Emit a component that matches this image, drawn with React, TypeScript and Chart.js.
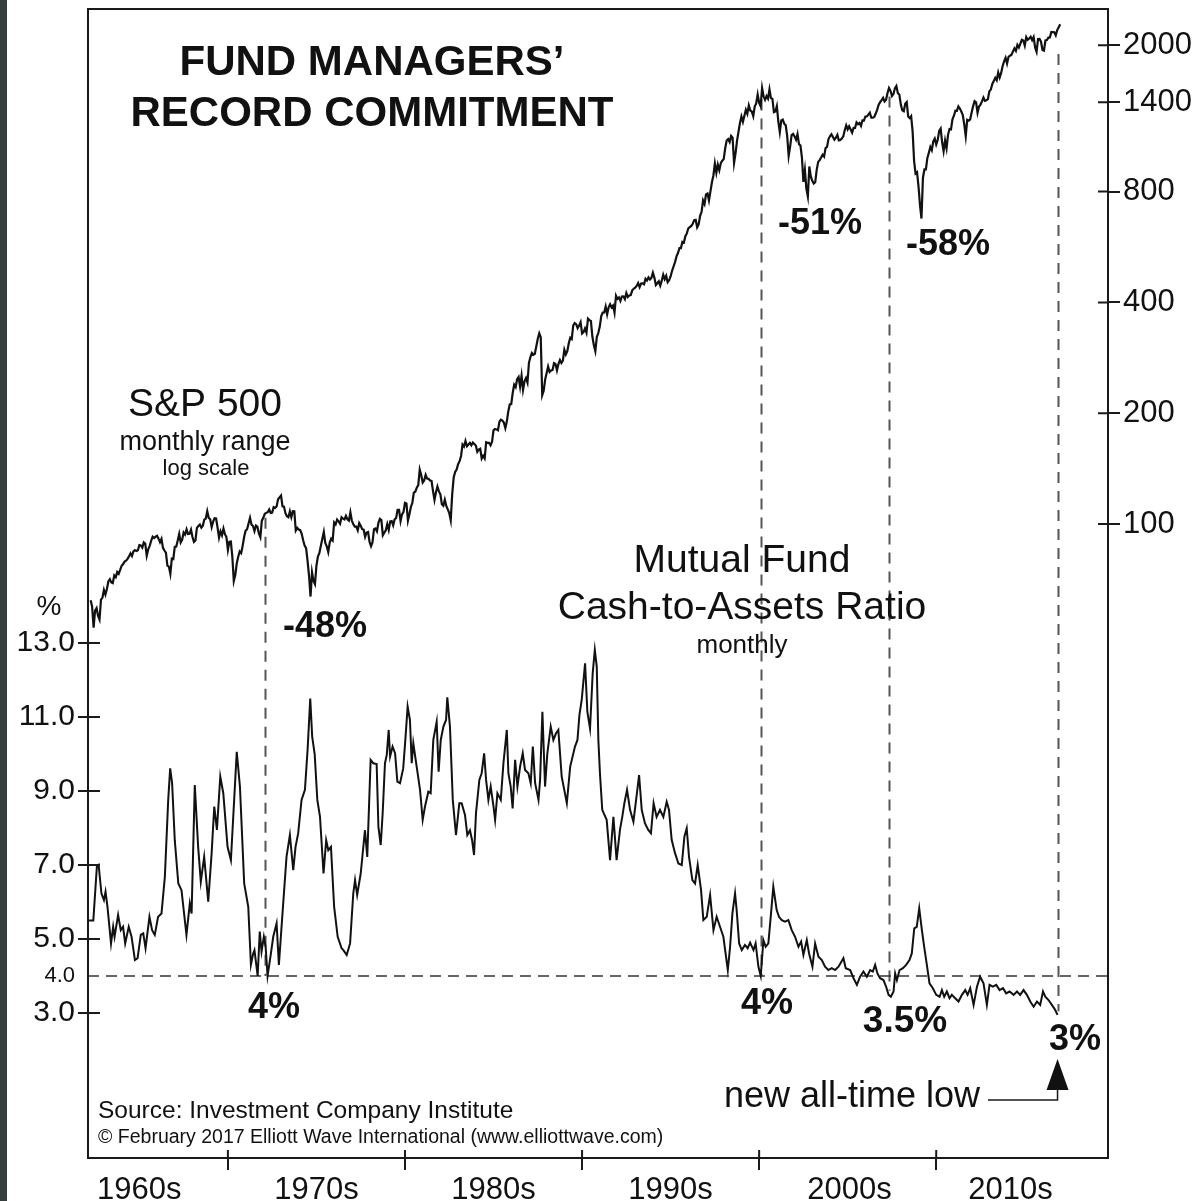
import React, { useEffect, useRef } from "react";
import { Chart, registerables } from "chart.js";

Chart.register(...registerables);

const FONT = '"Liberation Sans", Arial, Helvetica, sans-serif';

// ---------- axes ----------
const X_MIN = 1962.1;
const X_MAX = 2019.7;
const decadeTicks = [1970, 1980, 1990, 2000, 2010];
const decadeLabels = ["1960s", "1970s", "1980s", "1990s", "2000s", "2010s"];
const decadeLabelPos = [1965, 1975, 1985, 1995, 2005.1, 2014.2];
const cashTicks = [3, 4, 5, 7, 9, 11, 13];
const CASH_MIN = -0.919;
const CASH_MAX = 30.135;
const spxTicks = [100, 200, 400, 800, 1400, 2000];
const SPX_MIN = 1.893;
const SPX_MAX = 2508;

// ---------- S&P 500 monthly (starts April 1962) ----------
const SPX_START_YEAR = 1962;
const SPX_START_MONTH = 3; // April, 0-based
const spx1962to1969 = [
  62.0, 59.6, 52.3, 58.2, 59.1, 56.3, 55.0, 62.3, 63.1,
  66.2, 64.3, 66.6, 69.8, 70.8, 69.4, 69.1, 72.5, 71.7, 74.0, 73.2, 75.0,
  77.0, 77.8, 79.0, 79.5, 80.4, 81.7, 83.2, 81.8, 84.2, 84.9, 84.4, 84.8,
  87.6, 87.4, 86.2, 89.1, 88.4, 82.0, 85.3, 87.2, 90.0, 92.4, 91.6, 92.4,
  92.9, 91.2, 89.2, 91.1, 86.1, 84.7, 83.6, 77.1, 76.6, 73.2, 80.5, 80.3,
  86.6, 86.8, 90.2, 94.0, 89.1, 90.6, 94.8, 93.6, 96.7, 93.9, 94.0, 96.5,
  92.2, 89.4, 90.2, 97.6, 98.7, 99.6, 97.7, 98.9, 102.7, 103.4, 108.4, 103.9,
  103.0, 98.1, 101.5, 103.7, 103.5, 97.7, 91.8, 95.5, 93.1, 97.2, 93.8, 92.1,
];
const spx1970s = [
  85.0, 89.5, 89.6, 81.5, 70.0, 72.7, 78.1, 81.5, 84.2, 83.3, 87.2, 92.2,
  95.9, 96.8, 100.3, 104.0, 99.6, 98.7, 95.6, 99.0, 98.3, 94.2, 92.0, 102.1,
  103.9, 106.6, 107.2, 107.7, 109.5, 107.1, 107.4, 111.1, 110.6, 111.6, 116.7, 118.1,
  119.5, 111.7, 111.5, 107.0, 105.0, 104.3, 108.2, 104.3, 108.4, 108.3, 96.0, 97.6,
  96.6, 96.2, 94.0, 90.3, 87.3, 86.0, 79.3, 72.2, 63.5, 73.9, 70.0, 68.6,
  77.0, 81.6, 83.4, 87.3, 91.2, 95.2, 88.8, 86.9, 83.9, 89.0, 91.2, 90.2,
  100.9, 99.7, 102.8, 101.6, 100.2, 104.3, 103.4, 102.9, 105.2, 102.9, 102.1, 107.5,
  102.0, 99.8, 98.4, 98.4, 96.1, 100.5, 98.9, 96.8, 96.5, 92.3, 94.8, 95.1,
  89.3, 87.0, 89.2, 96.8, 97.2, 95.5, 100.7, 103.3, 102.5, 93.2, 94.7, 96.1,
  99.9, 96.3, 101.6, 101.8, 99.1, 102.9, 103.8, 109.3, 109.3, 101.8, 106.2, 107.9,
];
const spx1980s = [
  114.2, 113.7, 102.1, 106.3, 111.2, 114.2, 121.7, 122.4, 125.5, 127.5, 140.5, 135.8,
  129.6, 131.3, 136.0, 132.8, 132.6, 131.2, 130.9, 122.8, 116.2, 121.9, 126.4, 122.6,
  120.4, 113.1, 112.0, 116.4, 111.9, 109.6, 107.1, 102.4, 120.4, 133.7, 138.5, 140.6,
  145.3, 148.1, 153.0, 164.4, 162.4, 168.1, 162.6, 164.4, 166.1, 163.6, 166.4, 164.9,
  163.4, 157.1, 159.2, 160.1, 150.6, 153.2, 150.7, 166.7, 166.1, 166.1, 163.6, 167.2,
  179.6, 181.2, 180.7, 179.8, 189.6, 191.9, 190.9, 188.6, 182.1, 189.8, 202.2, 211.3,
  211.8, 226.9, 238.9, 235.5, 247.4, 250.8, 236.1, 252.9, 231.3, 244.0, 249.2, 242.2,
  274.1, 284.2, 291.7, 288.4, 290.1, 304.0, 318.7, 329.8, 321.8, 224.0, 230.3, 247.1,
  257.1, 267.8, 258.9, 261.3, 262.2, 273.5, 272.0, 261.5, 271.9, 279.0, 273.7, 277.7,
  297.5, 288.9, 294.9, 309.6, 320.5, 318.0, 346.1, 351.5, 349.2, 340.4, 346.0, 353.4,
];
const spx1990s = [
  329.1, 331.9, 339.9, 330.8, 361.2, 358.0, 356.2, 322.6, 306.1, 295.0, 322.2, 330.2,
  343.9, 367.1, 375.2, 375.4, 389.8, 371.2, 387.8, 395.4, 387.9, 392.5, 375.2, 417.1,
  408.8, 412.7, 403.7, 415.0, 415.4, 408.1, 424.2, 414.0, 417.8, 418.7, 431.4, 435.7,
  438.8, 443.4, 451.7, 440.2, 450.2, 450.5, 448.1, 463.6, 458.9, 467.8, 461.8, 466.5,
  481.6, 467.1, 445.8, 450.9, 456.5, 444.3, 458.3, 475.5, 462.7, 472.4, 453.7, 459.3,
  470.4, 487.4, 500.7, 514.7, 533.4, 544.8, 562.1, 561.9, 584.4, 581.5, 605.4, 615.9,
  636.0, 640.4, 645.5, 654.2, 669.1, 670.6, 640.0, 652.0, 687.3, 705.3, 757.0, 740.7,
  786.2, 790.8, 757.1, 801.3, 848.3, 885.1, 954.3, 899.5, 947.3, 914.6, 955.4, 970.4,
  980.3, 1049.3, 1101.8, 1111.8, 1090.8, 1133.8, 1120.7, 957.3, 1017.0, 1098.7, 1163.6, 1229.2,
  1279.6, 1238.3, 1286.4, 1335.2, 1301.8, 1372.7, 1328.7, 1320.4, 1282.7, 1362.9, 1388.9, 1469.3,
];
const spx2000s = [
  1394.5, 1366.4, 1530.0, 1452.4, 1420.6, 1454.6, 1430.8, 1517.7, 1436.5, 1429.4, 1315.0, 1320.3,
  1366.0, 1239.9, 1160.3, 1249.5, 1255.8, 1224.4, 1211.2, 1133.6, 1000.0, 1059.8, 1139.5, 1148.1,
  1130.2, 1106.7, 1147.4, 1076.9, 1067.1, 989.8, 850.0, 916.1, 815.3, 776.0, 936.3, 879.8,
  855.7, 841.2, 848.2, 916.9, 963.6, 974.5, 990.3, 1008.0, 996.0, 1050.7, 1058.2, 1111.9,
  1131.1, 1144.9, 1126.2, 1107.3, 1120.7, 1140.8, 1101.7, 1104.2, 1114.6, 1130.2, 1173.8, 1211.9,
  1181.3, 1203.6, 1180.6, 1156.9, 1191.5, 1191.3, 1234.2, 1220.3, 1228.8, 1207.0, 1249.5, 1248.3,
  1280.1, 1280.7, 1294.9, 1310.6, 1270.1, 1270.2, 1276.7, 1303.8, 1335.9, 1377.9, 1400.6, 1418.3,
  1438.2, 1406.8, 1420.9, 1482.4, 1530.6, 1503.4, 1455.3, 1474.0, 1526.8, 1549.4, 1481.1, 1468.4,
  1378.6, 1330.6, 1322.7, 1385.6, 1400.4, 1280.0, 1267.4, 1282.8, 1166.4, 968.8, 896.2, 903.3,
  825.9, 735.1, 676.0, 872.8, 919.1, 919.3, 987.5, 1020.6, 1057.1, 1036.2, 1095.6, 1115.1,
];
const spx2010s = [
  1073.9, 1104.5, 1169.4, 1186.7, 1089.4, 1030.7, 1101.6, 1049.3, 1141.2, 1183.3, 1180.6, 1257.6,
  1286.1, 1327.2, 1325.8, 1363.6, 1345.2, 1320.6, 1292.3, 1218.9, 1131.4, 1253.3, 1247.0, 1257.6,
  1312.4, 1365.7, 1408.5, 1397.9, 1310.3, 1362.2, 1379.3, 1406.6, 1440.7, 1412.2, 1416.2, 1426.2,
  1498.1, 1514.7, 1569.2, 1597.6, 1630.7, 1606.3, 1685.7, 1633.0, 1681.6, 1756.5, 1805.8, 1848.4,
  1782.6, 1859.5, 1872.3, 1884.0, 1923.6, 1960.2, 1930.7, 2003.4, 1972.3, 2018.1, 2067.6, 2058.9,
  1995.0, 2104.5, 2067.9, 2085.5, 2107.4, 2063.1, 2103.8, 1972.2, 1920.0, 2079.4, 2080.4, 2043.9,
  1940.2, 1932.2, 2059.7, 2065.3, 2097.0, 2098.9, 2173.6, 2171.0, 2168.3, 2126.2, 2198.8, 2238.8,
  2278.9,
];

// ---------- Mutual fund cash-to-assets ratio, % (date, value) ----------
const cash1960s: [number, number][] = [
  [1962.1, 5.5], [1962.4, 5.5], [1962.6, 6.95], [1962.7, 7.0], [1962.86, 6.23], [1963.0, 6.05],
  [1963.09, 6.28], [1963.2, 5.87], [1963.4, 4.88], [1963.52, 5.33], [1963.6, 5.06], [1963.8, 5.65],
  [1963.95, 5.24], [1964.08, 5.33], [1964.2, 4.88], [1964.4, 5.33], [1964.56, 5.06], [1964.75, 4.43],
  [1964.9, 4.48], [1965.08, 5.11], [1965.22, 5.15], [1965.35, 4.75], [1965.57, 5.6], [1965.72, 5.24],
  [1965.87, 5.11], [1966.06, 5.6], [1966.25, 5.69], [1966.44, 6.68], [1966.63, 8.76], [1966.74, 9.61],
  [1966.85, 9.21], [1967.0, 7.67], [1967.2, 6.5], [1967.38, 6.32], [1967.66, 5.11], [1967.85, 5.96],
  [1967.95, 5.69], [1968.13, 9.16], [1968.32, 7.49], [1968.47, 6.55], [1968.66, 7.22], [1968.89, 6.01],
  [1969.08, 7.31], [1969.23, 8.58], [1969.38, 7.95], [1969.57, 9.39], [1969.74, 8.94], [1969.98, 7.49],
];
const cash1970s: [number, number][] = [
  [1970.17, 7.13], [1970.5, 10.06], [1970.68, 9.12], [1970.92, 6.5], [1971.15, 5.87], [1971.3, 4.3],
  [1971.43, 4.61], [1971.5, 4.7], [1971.68, 4.0], [1971.8, 5.2], [1971.9, 4.66], [1972.03, 5.06],
  [1972.13, 4.79], [1972.24, 4.0], [1972.43, 4.61], [1972.56, 5.06], [1972.75, 5.42], [1972.88, 4.3],
  [1973.07, 5.6], [1973.31, 7.22], [1973.5, 7.81], [1973.69, 6.86], [1973.82, 7.49], [1973.97, 7.86],
  [1974.16, 8.76], [1974.35, 9.03], [1974.5, 10.11], [1974.65, 11.5], [1974.76, 10.47], [1974.9, 10.0],
  [1975.05, 8.76], [1975.2, 8.31], [1975.4, 6.77], [1975.55, 7.67], [1975.67, 7.4], [1975.82, 7.49],
  [1976.0, 5.87], [1976.2, 5.06], [1976.42, 4.75], [1976.52, 4.7], [1976.71, 4.57], [1976.9, 4.88],
  [1977.08, 6.23], [1977.18, 6.59], [1977.3, 6.19], [1977.5, 6.77], [1977.74, 7.94], [1977.87, 7.22],
  [1978.06, 9.84], [1978.21, 9.75], [1978.4, 9.73], [1978.5, 8.03], [1978.63, 7.54], [1978.74, 8.4],
  [1978.87, 9.75], [1978.97, 9.97], [1979.08, 10.65], [1979.16, 9.93], [1979.3, 10.2], [1979.44, 10.02],
  [1979.57, 9.25], [1979.72, 9.21], [1979.9, 9.61],
];
const cash1980s: [number, number][] = [
  [1980.02, 10.38], [1980.15, 11.28], [1980.28, 10.92], [1980.38, 9.75], [1980.47, 10.29], [1980.66, 9.66],
  [1980.85, 9.03], [1981.0, 8.22], [1981.13, 8.58], [1981.32, 8.98], [1981.45, 8.94], [1981.6, 10.38],
  [1981.79, 10.87], [1981.9, 9.52], [1982.02, 10.38], [1982.17, 10.74], [1982.32, 10.92], [1982.39, 11.53],
  [1982.54, 10.74], [1982.7, 8.76], [1982.88, 7.81], [1983.07, 8.67], [1983.2, 8.67], [1983.39, 8.35],
  [1983.52, 7.81], [1983.67, 7.94], [1983.79, 7.67], [1983.9, 7.27], [1984.01, 8.4], [1984.2, 9.3],
  [1984.33, 9.48], [1984.47, 10.02], [1984.58, 9.3], [1984.71, 8.76], [1984.84, 9.12], [1985.0, 8.58],
  [1985.09, 8.22], [1985.22, 8.94], [1985.41, 8.76], [1985.56, 9.75], [1985.75, 10.65], [1985.84, 9.48],
  [1985.97, 9.12], [1986.08, 8.53], [1986.22, 9.84], [1986.35, 9.12], [1986.5, 9.66], [1986.65, 10.02],
  [1986.78, 9.57], [1986.97, 9.48], [1987.1, 9.21], [1987.22, 10.2], [1987.35, 9.21], [1987.54, 8.76],
  [1987.63, 9.3], [1987.76, 11.14], [1987.91, 9.12], [1988.04, 10.02], [1988.23, 10.74], [1988.38, 10.38],
  [1988.53, 10.56], [1988.66, 10.65], [1988.85, 9.39], [1989.14, 8.67], [1989.33, 9.66], [1989.6, 10.2],
  [1989.74, 10.38], [1989.85, 11.05], [1989.98, 11.46],
];
const cash1990s: [number, number][] = [
  [1990.17, 12.45], [1990.3, 11.14], [1990.45, 10.69], [1990.6, 12.18], [1990.72, 12.81], [1990.83, 12.36],
  [1990.92, 10.38], [1991.01, 9.48], [1991.14, 8.49], [1991.39, 8.22], [1991.58, 7.13], [1991.77, 8.3],
  [1991.95, 7.13], [1992.14, 7.95], [1992.27, 8.3], [1992.39, 8.67], [1992.54, 9.03], [1992.71, 8.49],
  [1992.9, 8.17], [1993.03, 8.67], [1993.22, 9.43], [1993.37, 8.49], [1993.55, 8.13], [1993.74, 7.95],
  [1993.89, 7.86], [1994.04, 8.67], [1994.21, 8.3], [1994.4, 8.49], [1994.59, 8.3], [1994.78, 8.71],
  [1994.91, 8.49], [1995.06, 7.68], [1995.25, 7.32], [1995.44, 7.04], [1995.63, 7.0], [1995.78, 7.77],
  [1995.91, 7.99], [1996.04, 7.22], [1996.23, 6.59], [1996.38, 6.5], [1996.53, 7.0], [1996.72, 6.32],
  [1996.85, 5.51], [1997.04, 5.6], [1997.23, 6.19], [1997.42, 5.24], [1997.6, 5.6], [1997.79, 5.33],
  [1997.98, 5.06], [1998.23, 4.16], [1998.36, 4.79], [1998.49, 5.69], [1998.64, 6.23], [1998.73, 5.78],
  [1998.87, 4.88], [1999.02, 4.7], [1999.2, 4.84], [1999.35, 4.75], [1999.49, 4.9], [1999.68, 4.7],
  [1999.8, 4.88], [1999.96, 4.25],
];
const cash2000s: [number, number][] = [
  [2000.09, 4.0], [2000.24, 4.97], [2000.37, 4.79], [2000.52, 4.88], [2000.67, 5.69], [2000.8, 6.41],
  [2000.99, 5.78], [2001.12, 5.6], [2001.28, 5.51], [2001.46, 5.47], [2001.65, 5.51], [2001.84, 5.24],
  [2002.03, 5.06], [2002.22, 4.79], [2002.37, 4.93], [2002.5, 4.57], [2002.69, 4.97], [2002.82, 4.61],
  [2003.01, 4.25], [2003.16, 4.88], [2003.35, 4.52], [2003.54, 4.43], [2003.72, 4.25], [2003.91, 4.16],
  [2004.1, 4.21], [2004.29, 4.16], [2004.48, 4.25], [2004.76, 4.48], [2004.89, 4.21], [2005.14, 4.16],
  [2005.33, 3.94], [2005.52, 3.76], [2005.7, 3.98], [2005.89, 4.12], [2006.08, 3.98], [2006.27, 4.16],
  [2006.42, 4.12], [2006.55, 4.3], [2006.68, 4.07], [2006.83, 3.94], [2007.02, 3.89], [2007.17, 3.71],
  [2007.31, 3.49], [2007.44, 3.44], [2007.59, 3.58], [2007.68, 4.07], [2007.78, 3.89], [2007.93, 4.16],
  [2008.12, 4.21], [2008.3, 4.3], [2008.49, 4.43], [2008.62, 4.61], [2008.76, 5.29], [2008.9, 5.33],
  [2009.04, 5.83], [2009.19, 5.24], [2009.32, 4.79], [2009.47, 4.3], [2009.62, 3.8], [2009.81, 3.67],
];
const cash2010s: [number, number][] = [
  [2010.0, 3.49], [2010.19, 3.44], [2010.32, 3.62], [2010.45, 3.44], [2010.6, 3.58], [2010.75, 3.4],
  [2010.88, 3.49], [2011.07, 3.4], [2011.26, 3.31], [2011.45, 3.49], [2011.64, 3.62], [2011.77, 3.49],
  [2011.92, 3.67], [2012.11, 3.22], [2012.3, 3.71], [2012.48, 3.98], [2012.67, 3.8], [2012.86, 3.22],
  [2013.01, 3.76], [2013.2, 3.71], [2013.39, 3.76], [2013.58, 3.62], [2013.77, 3.67], [2013.95, 3.53],
  [2014.14, 3.58], [2014.37, 3.49], [2014.56, 3.58], [2014.74, 3.49], [2014.93, 3.62], [2015.12, 3.49],
  [2015.31, 3.31], [2015.5, 3.17], [2015.69, 3.31], [2015.87, 3.22], [2016.03, 3.58], [2016.16, 3.44],
  [2016.34, 3.35], [2016.53, 3.22], [2016.72, 3.08], [2016.85, 2.95],
];

// ---------- reference line and markers ----------
const cashFloor = 4.0;
const markerDates = [1972.1, 2000.1, 2007.35, 2016.85];
const markerSpx = [104, 1424, 1450, 1894];
const markerCash = [4.0, 4.0, 3.6, 3.05];

const spxAll = [...spx1962to1969, ...spx1970s, ...spx1980s, ...spx1990s, ...spx2000s, ...spx2010s];
const cashAll = [...cash1960s, ...cash1970s, ...cash1980s, ...cash1990s, ...cash2000s, ...cash2010s];

type Txt = { t: string; x: number; y: number; size: number; bold?: boolean; align?: CanvasTextAlign };
const texts: Txt[] = [
  { t: "FUND MANAGERS\u2019", x: 372, y: 63, size: 42, bold: true },
  { t: "RECORD COMMITMENT", x: 372, y: 114, size: 42, bold: true },
  { t: "S&P 500", x: 205, y: 405, size: 39 },
  { t: "monthly range", x: 205, y: 443, size: 27 },
  { t: "log scale", x: 206, y: 469, size: 22 },
  { t: "-48%", x: 325, y: 627, size: 36, bold: true },
  { t: "-51%", x: 820, y: 224, size: 36, bold: true },
  { t: "-58%", x: 948, y: 245, size: 36, bold: true },
  { t: "Mutual Fund", x: 742, y: 561, size: 39 },
  { t: "Cash-to-Assets Ratio", x: 742, y: 608, size: 39 },
  { t: "monthly", x: 742, y: 646, size: 26 },
  { t: "4%", x: 274, y: 1008, size: 36, bold: true },
  { t: "4%", x: 767, y: 1004, size: 36, bold: true },
  { t: "3.5%", x: 905, y: 1022, size: 37, bold: true },
  { t: "3%", x: 1075, y: 1040, size: 36, bold: true },
  { t: "new all-time low", x: 852, y: 1097, size: 36 },
  { t: "%", x: 49, y: 607, size: 28 },
  { t: "Source: Investment Company Institute", x: 98, y: 1111, size: 24.5, align: "left" },
  { t: "\u00A9 February 2017 Elliott Wave International (www.elliottwave.com)", x: 98, y: 1138, size: 19.5, align: "left" },
];

const overlay = {
  id: "overlay",
  beforeDraw(chart: any) {
    const { ctx, width, height } = chart;
    ctx.save();
    ctx.fillStyle = "#ffffff";
    ctx.fillRect(0, 0, width, height);
    ctx.restore();
  },
  beforeDatasetsDraw(chart: any) {
    const { ctx, scales } = chart;
    const x = scales.x, y = scales.y, y2 = scales.y2;
    ctx.save();
    ctx.setLineDash([11, 8]);
    ctx.strokeStyle = "#555";
    ctx.lineWidth = 2;
    markerDates.forEach((d, i) => {
      const px = Math.round(x.getPixelForValue(d)) + 0.5;
      ctx.beginPath();
      ctx.moveTo(px, y2.getPixelForValue(markerSpx[i]));
      ctx.lineTo(px, y.getPixelForValue(markerCash[i]));
      ctx.stroke();
    });
    ctx.restore();
  },
  afterDraw(chart: any) {
    const { ctx, chartArea: a, scales } = chart;
    const x = scales.x, y = scales.y, y2 = scales.y2;
    ctx.save();
    ctx.strokeStyle = "#1a1a1a";
    ctx.lineWidth = 2;
    ctx.strokeRect(a.left, a.top, a.right - a.left, a.bottom - a.top);
    ctx.beginPath();
    cashTicks.filter((v) => v !== 4).forEach((v) => {
      const py = y.getPixelForValue(v);
      ctx.moveTo(a.left, py);
      ctx.lineTo(a.left + 12, py);
    });
    spxTicks.forEach((v) => {
      const py = y2.getPixelForValue(v);
      ctx.moveTo(a.right - 10, py);
      ctx.lineTo(a.right, py);
    });
    decadeTicks.forEach((v) => {
      const px = x.getPixelForValue(v);
      ctx.moveTo(px, a.bottom - 8);
      ctx.lineTo(px, a.bottom);
    });
    ctx.stroke();

    // arrow to the new low
    const ax = x.getPixelForValue(markerDates[3]);
    ctx.lineWidth = 1.5;
    ctx.beginPath();
    ctx.moveTo(988, 1100);
    ctx.lineTo(ax, 1100);
    ctx.lineTo(ax, 1088);
    ctx.stroke();
    ctx.fillStyle = "#111";
    ctx.beginPath();
    ctx.moveTo(ax - 11, 1090);
    ctx.lineTo(ax + 11, 1090);
    ctx.lineTo(ax, 1059);
    ctx.closePath();
    ctx.fill();

    ctx.fillStyle = "#111";
    ctx.textBaseline = "middle";
    texts.forEach((t) => {
      ctx.font = `${t.bold ? "bold " : ""}${t.size}px ${FONT}`;
      ctx.textAlign = t.align || "center";
      ctx.fillText(t.t, t.x, t.y);
    });
    ctx.restore();
  },
};

export default function App() {
  const canvasRef = useRef<HTMLCanvasElement | null>(null);

  useEffect(() => {
    if (!canvasRef.current) return;
    const spxData = spxAll.map((v, i) => ({ x: SPX_START_YEAR + (SPX_START_MONTH + i) / 12, y: v }));
    const cashData = cashAll.map(([d, v]) => ({ x: d, y: v }));
    const chart = new Chart(canvasRef.current, {
      type: "line",
      data: {
        datasets: [
          {
            label: "S&P 500",
            data: spxData,
            yAxisID: "y2",
            borderColor: "#111",
            borderWidth: 2.2,
            pointRadius: 0,
            tension: 0,
          },
          {
            label: "Cash-to-Assets Ratio",
            data: cashData,
            yAxisID: "y",
            borderColor: "#111",
            borderWidth: 2,
            pointRadius: 0,
            tension: 0,
          },
          {
            label: "4% level",
            data: [
              { x: X_MIN, y: cashFloor },
              { x: X_MAX, y: cashFloor },
            ],
            yAxisID: "y",
            borderColor: "#333",
            borderWidth: 1.6,
            borderDash: [11, 7],
            pointRadius: 0,
          },
        ],
      },
      options: {
        animation: false,
        responsive: false,
        devicePixelRatio: 1,
        events: [],
        layout: { padding: { top: 9, left: 0, right: 0, bottom: 0 } },
        plugins: { legend: { display: false }, tooltip: { enabled: false }, title: { display: false } },
        scales: {
          x: {
            type: "linear",
            position: "bottom",
            min: X_MIN,
            max: X_MAX,
            bounds: "data",
            afterBuildTicks: (s: any) => {
              s.ticks = [...decadeLabelPos, ...decadeTicks].sort((p, q) => p - q).map((v) => ({ value: v }));
            },
            afterFit: (s: any) => {
              s.height = 43;
              s.paddingLeft = 0;
              s.paddingRight = 0;
            },
            border: { display: false },
            grid: {
              drawOnChartArea: false,
              drawTicks: true,
              tickLength: 12,
              lineWidth: 2,
              color: (c: any) => (c.tick && decadeTicks.includes(c.tick.value) ? "#1a1a1a" : "rgba(0,0,0,0)"),
            },
            ticks: {
              autoSkip: false,
              maxRotation: 0,
              padding: 2,
              color: "#111",
              font: { family: FONT, size: 31 },
              callback: (v: any) => {
                const i = decadeLabelPos.indexOf(Number(v));
                return i >= 0 ? decadeLabels[i] : "";
              },
            },
          },
          y: {
            type: "linear",
            position: "left",
            min: CASH_MIN,
            max: CASH_MAX,
            bounds: "data",
            afterBuildTicks: (s: any) => {
              s.ticks = cashTicks.map((v) => ({ value: v }));
            },
            afterFit: (s: any) => {
              s.width = 88;
              s.paddingTop = 0;
              s.paddingBottom = 0;
            },
            border: { display: false },
            grid: {
              drawOnChartArea: false,
              tickLength: 10,
              lineWidth: 2,
              color: (c: any) => (c.tick && c.tick.value === 4 ? "rgba(0,0,0,0)" : "#1a1a1a"),
            },
            ticks: {
              autoSkip: false,
              padding: 3,
              color: "#111",
              font: (c: any) => ({ family: FONT, size: c.tick && c.tick.value === 4 ? 22 : 30 }),
              callback: (v: any) => Number(v).toFixed(1),
            },
          },
          y2: {
            type: "logarithmic",
            position: "right",
            min: SPX_MIN,
            max: SPX_MAX,
            bounds: "data",
            afterBuildTicks: (s: any) => {
              s.ticks = spxTicks.map((v) => ({ value: v }));
            },
            afterFit: (s: any) => {
              s.width = 90;
              s.paddingTop = 0;
              s.paddingBottom = 0;
            },
            border: { display: false },
            grid: {
              drawOnChartArea: false,
              tickLength: 12,
              lineWidth: 2,
              color: "#1a1a1a",
            },
            ticks: {
              autoSkip: false,
              padding: 3,
              color: "#111",
              font: { family: FONT, size: 31 },
              callback: (v: any) => String(v),
            },
          },
        },
      },
      plugins: [overlay],
    } as any);
    return () => chart.destroy();
  }, []);

  return (
    <div style={{ position: "absolute", left: 0, top: 0, width: 1198, height: 1201, background: "#fff" }}>
      <canvas ref={canvasRef} width={1198} height={1201} style={{ display: "block" }} />
      <div style={{ position: "absolute", left: 0, top: 0, width: 7, height: 1201, background: "#353d3d" }} />
    </div>
  );
}
